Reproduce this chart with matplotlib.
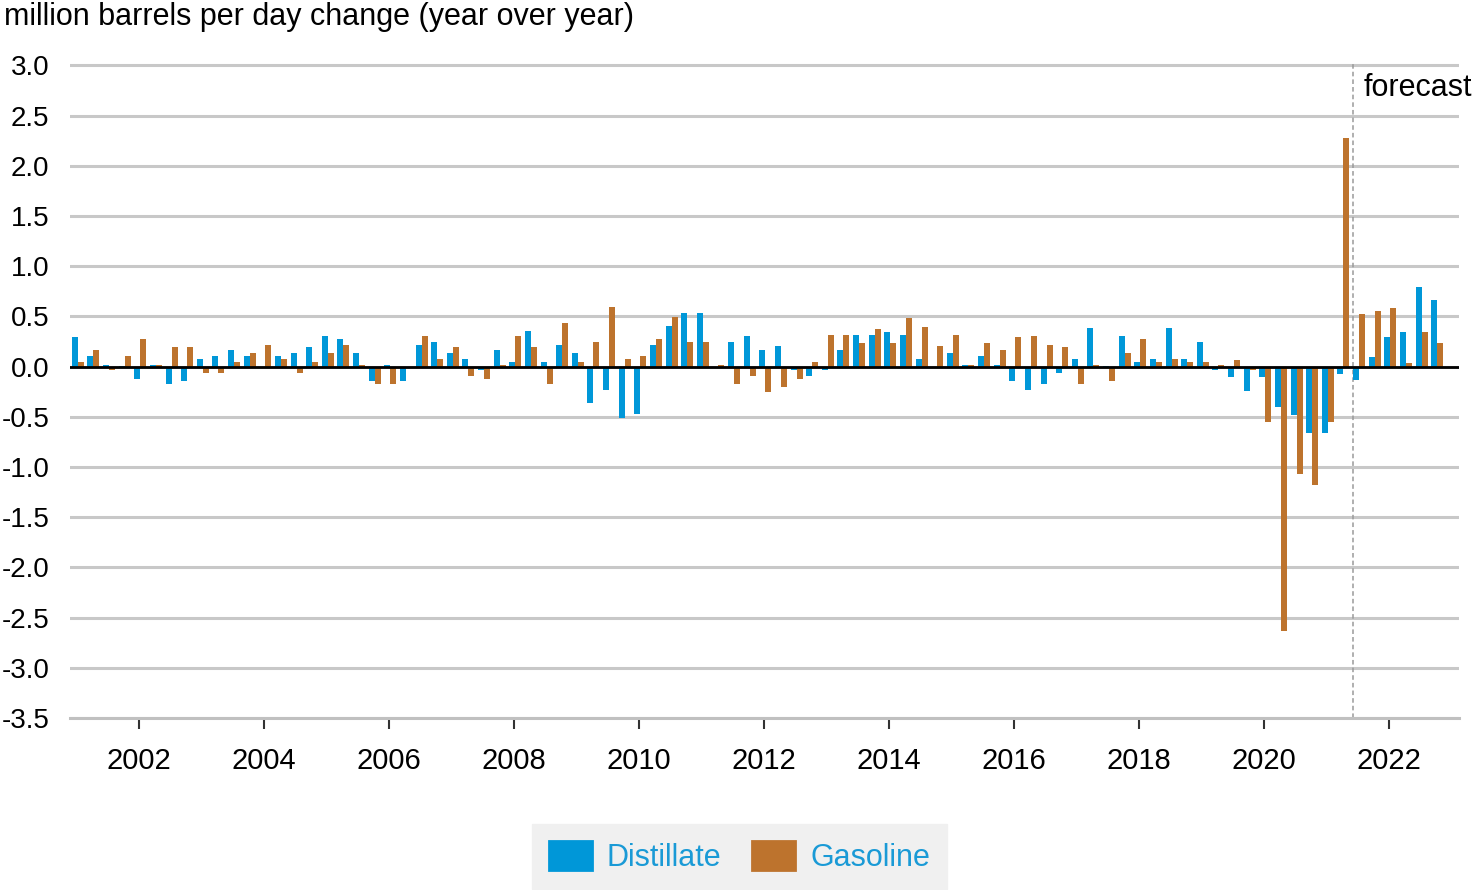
import numpy as np
import pandas as pd
from matplotlib import pyplot as plt
from matplotlib.patches import Patch

plt.rcParams['font.family'] = ['Liberation Sans', 'DejaVu Sans']

quarters = pd.period_range('2001Q1', '2022Q4', freq='Q').astype(str)

distillate = [0.29, 0.10, 0.02, 0.01, -0.12, 0.02, -0.17, -0.14, 0.08, 0.10, 0.16, 0.10,
              0.00, 0.10, 0.13, 0.19, 0.30, 0.27, 0.13, -0.14, 0.02, -0.14, 0.21, 0.24,
              0.13, 0.08, -0.03, 0.16, 0.05, 0.35, 0.05, 0.21, 0.13, -0.36, -0.23, -0.51,
              -0.47, 0.21, 0.40, 0.53, 0.53, 0.00, 0.24, 0.30, 0.16, 0.20, -0.03, -0.09,
              -0.03, 0.16, 0.31, 0.31, 0.34, 0.31, 0.08, 0.00, 0.13, 0.02, 0.10, 0.02,
              -0.14, -0.23, -0.17, -0.06, 0.08, 0.38, 0.01, 0.30, 0.05, 0.08, 0.38, 0.08,
              0.24, -0.03, -0.10, -0.24, -0.10, -0.40, -0.48, -0.66, -0.66, -0.07, -0.13, 0.09,
              0.29, 0.34, 0.79, 0.66]

gasoline = [0.05, 0.16, -0.03, 0.10, 0.27, 0.02, 0.19, 0.19, -0.06, -0.06, 0.05, 0.13,
            0.21, 0.08, -0.06, 0.05, 0.13, 0.21, 0.02, -0.17, -0.17, 0.00, 0.30, 0.08,
            0.19, -0.09, -0.12, 0.02, 0.30, 0.19, -0.17, 0.43, 0.05, 0.24, 0.59, 0.08,
            0.10, 0.27, 0.49, 0.24, 0.24, 0.02, -0.17, -0.09, -0.25, -0.20, -0.12, 0.05,
            0.31, 0.31, 0.23, 0.37, 0.23, 0.48, 0.39, 0.20, 0.31, 0.02, 0.23, 0.16,
            0.29, 0.30, 0.21, 0.19, -0.17, 0.02, -0.14, 0.13, 0.27, 0.05, 0.08, 0.05,
            0.05, 0.02, 0.07, -0.03, -0.55, -2.63, -1.07, -1.18, -0.55, 2.28, 0.52, 0.55,
            0.58, 0.04, 0.34, 0.23]

year_labels = ['2002', '2004', '2006', '2008', '2010', '2012', '2014', '2016', '2018', '2020', '2022']
y_ticks = np.arange(-3.5, 3.01, 0.5)

blue = '#0097d8'
orange = '#bd732d'
fs = 22

fig = plt.figure(figsize=(14.76, 8.9), dpi=100)
ax = fig.add_axes([0.0474, 0.1933, 0.9411, 0.7367])

x = np.arange(len(quarters))
w = 0.385
ax.bar(x - w / 2, distillate, w, color=blue, zorder=3)
ax.bar(x + w / 2, gasoline, w, color=orange, zorder=3)

for t in y_ticks:
    ax.axhline(t, color='#c8c8c8', lw=2.2, zorder=1)
ax.axhline(0, color='black', lw=2.0, zorder=4)

# forecast starts after 2021Q2
ax.axvline(81.6, color='#9a9a9a', lw=1.1, ls=(0, (3, 2)), zorder=2)
ax.text(82.3, 2.77, 'forecast', fontsize=fs, va='center', ha='left')

ax.set_xlim(-0.5, 88.4)
ax.set_ylim(-3.5, 3.03)
ax.set_yticks(y_ticks)
ax.set_yticklabels([f'{t:.1f}' for t in y_ticks], fontsize=20)
ax.tick_params(axis='y', length=0, pad=15)

# one tick every two years, at Q1
ax.set_xticks([4 + 8 * i - 0.1 for i in range(len(year_labels))])
ax.set_xticklabels(year_labels, fontsize=21)
ax.tick_params(axis='x', length=8, width=1.5, color='#333333', pad=13)

for s in ['top', 'right', 'left']:
    ax.spines[s].set_visible(False)
ax.spines['bottom'].set_color('#c0c0c0')
ax.spines['bottom'].set_linewidth(2.2)

fig.text(0.003, 1 - 17 / 890, 'million barrels per day change (year over year)',
         fontsize=fs, va='center', ha='left')

handles = [Patch(facecolor=blue, edgecolor=blue, lw=2, joinstyle='round', label='Distillate'),
           Patch(facecolor=orange, edgecolor=orange, lw=2, joinstyle='round', label='Gasoline')]
leg = fig.legend(handles=handles, loc='center', bbox_to_anchor=(0.501, 0.0376), ncol=2,
                 fontsize=fs, frameon=True, fancybox=False, handlelength=1.4, handleheight=1.1,
                 handletextpad=0.5, columnspacing=1.0, borderpad=0.55, labelcolor='#1a9ad6')
leg.get_frame().set_facecolor('#f0f0f0')
leg.get_frame().set_edgecolor('#f0f0f0')
leg.get_frame().set_alpha(1)

fig.savefig('out.png', dpi=100)
